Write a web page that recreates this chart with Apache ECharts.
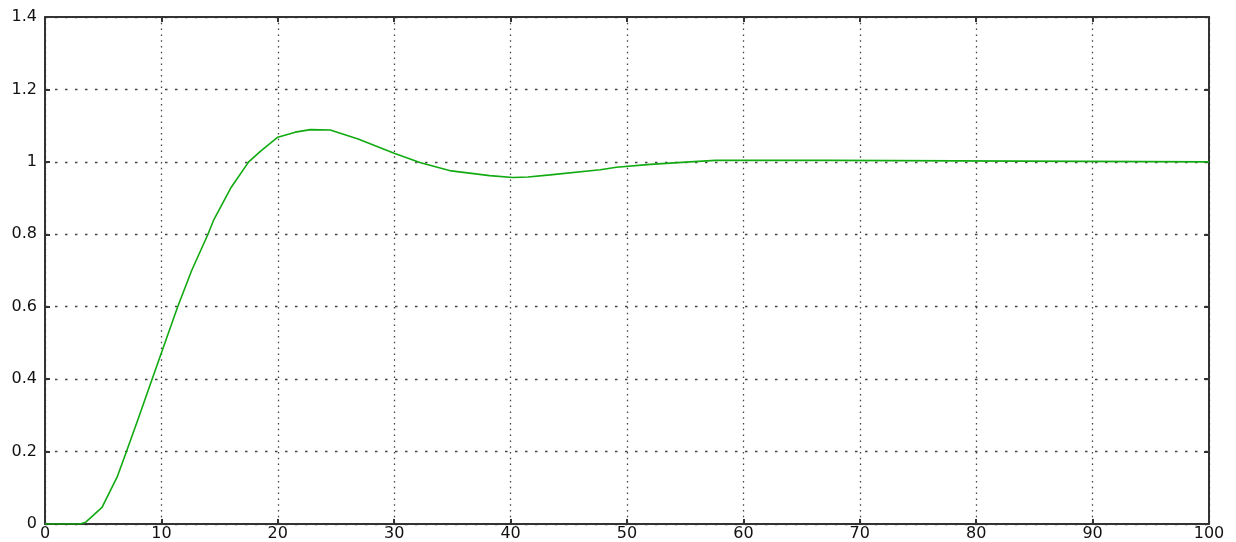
<!DOCTYPE html>
<html>
<head>
<meta charset="utf-8">
<script src="https://cdn.jsdelivr.net/npm/echarts@6/dist/echarts.min.js"></script>
<style>
html,body{margin:0;padding:0;background:#fff;}
#chart{width:1236px;height:542px;}
</style>
</head>
<body>
<div id="chart"></div>
<script>
// Step-response samples (time, output)
const times = [0, 3, 3.5, 4.9, 6.2, 7.0, 8.0, 9.2, 10.3, 11.4, 12.6, 14.0, 14.5, 16.0, 17.5, 18.5, 20.0, 21.5, 22.8, 24.5, 26.9, 30.0, 32.2, 34.9, 38.2, 40.2, 41.5, 43.4, 47.7, 49.1, 52.0, 55.4, 57.6, 67.4, 67.5, 100];
const values = [0, 0, 0.005, 0.046, 0.13, 0.2, 0.29, 0.4, 0.5, 0.6, 0.7, 0.8, 0.84, 0.93, 1.0, 1.029, 1.068, 1.082, 1.089, 1.088, 1.063, 1.024, 0.998, 0.975, 0.962, 0.957, 0.958, 0.964, 0.978, 0.985, 0.993, 1.0, 1.004, 1.004, 1.0, 1.0];
const xTicks = [0, 10, 20, 30, 40, 50, 60, 70, 80, 90, 100];
const yTicks = [0, 0.2, 0.4, 0.6, 0.8, 1, 1.2, 1.4];

const seriesData = times.map((t, i) => [t, values[i]]);
const axisColor = '#333';
const labelStyle = {color: '#111', fontSize: 16, fontFamily: 'DejaVu Sans, sans-serif'};

const chart = echarts.init(document.getElementById('chart'));
chart.setOption({
  animation: false,
  backgroundColor: '#fff',
  grid: {left: 45, right: 27, top: 17, bottom: 17, containLabel: false},
  xAxis: [{
    type: 'value', min: xTicks[0], max: xTicks[xTicks.length - 1], interval: 10,
    position: 'bottom',
    axisLine: {show: true, onZero: false, lineStyle: {color: axisColor, width: 2}},
    axisTick: {show: true, inside: true, length: 5, lineStyle: {color: axisColor, width: 2}},
    axisLabel: Object.assign({margin: 2}, labelStyle),
    splitLine: {show: true, lineStyle: {color: '#444', width: 1.3, type: [1.5, 4.3]}}
  }, {
    type: 'value', min: xTicks[0], max: xTicks[xTicks.length - 1], interval: 10,
    position: 'top',
    axisLine: {show: true, onZero: false, lineStyle: {color: axisColor, width: 2}},
    axisTick: {show: true, inside: true, length: 5, lineStyle: {color: axisColor, width: 2}},
    axisLabel: {show: false},
    splitLine: {show: false}
  }],
  yAxis: [{
    type: 'value', min: yTicks[0], max: yTicks[yTicks.length - 1], interval: 0.2,
    position: 'left',
    axisLine: {show: true, onZero: false, lineStyle: {color: axisColor, width: 2}},
    axisTick: {show: true, inside: true, length: 5, lineStyle: {color: axisColor, width: 2}},
    axisLabel: Object.assign({margin: 8, formatter: v => String(Math.round(v * 10) / 10)}, labelStyle),
    splitLine: {show: true, lineStyle: {color: '#444', width: 1.3, type: [2.5, 7.5]}}
  }, {
    type: 'value', min: yTicks[0], max: yTicks[yTicks.length - 1], interval: 0.2,
    position: 'right',
    axisLine: {show: true, onZero: false, lineStyle: {color: axisColor, width: 2}},
    axisTick: {show: true, inside: true, length: 5, lineStyle: {color: axisColor, width: 2}},
    axisLabel: {show: false},
    splitLine: {show: false}
  }],
  series: [{
    type: 'line',
    data: seriesData,
    xAxisIndex: 0, yAxisIndex: 0,
    showSymbol: false,
    smooth: false,
    lineStyle: {color: '#11aa11', width: 1.6},
    z: 5
  }]
});
</script>
</body>
</html>
